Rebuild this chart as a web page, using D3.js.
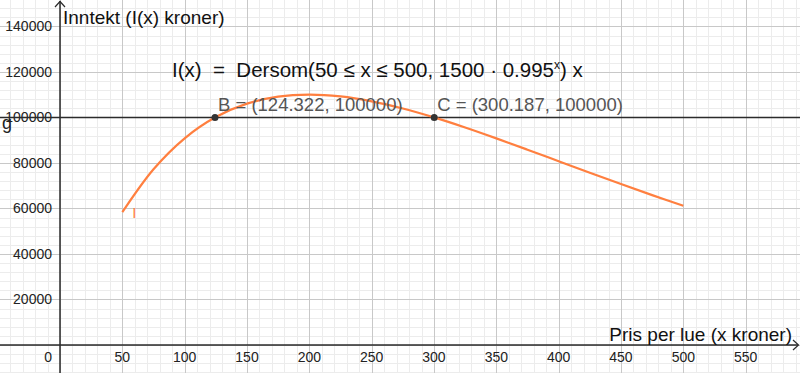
<!DOCTYPE html>
<html>
<head>
<meta charset="utf-8">
<style>
body { margin: 0; background: #fff; }
svg { display: block; font-family: Arial, "Liberation Sans", sans-serif; }
.grid-minor line { stroke: #ececec; stroke-width: 1; }
.grid-major line { stroke: #c8c8c8; stroke-width: 1; }
.tick-label { font-size: 14px; fill: #222; }
</style>
</head>
<body>
<svg width="800" height="373"></svg>
<script src="https://d3js.org/d3.v7.min.js"></script>
<script>
var prices = [50, 75, 100, 125, 150, 175, 200, 225, 250, 275, 300, 325, 350, 375, 400, 425, 450, 475, 500];
var revenue = [58373, 77248, 90866, 100204, 106083, 109190, 110089, 109260, 107101, 103937, 100032,
               95604, 90830, 85855, 80796, 75730, 70745, 65878, 61179];

// horizontal line g and its two intersection points
var lineG = 100000;
var pointNames = ["B", "C"];
var pointX = [124.322, 300.187];

var xTicks = [0, 50, 100, 150, 200, 250, 300, 350, 400, 450, 500, 550];
var yTicks = [20000, 40000, 60000, 80000, 100000, 120000, 140000];

var formula = "I(x)  =  Dersom(50 ≤ x ≤ 500, 1500 · 0.995";

var svg = d3.select("svg"),
    width = +svg.attr("width"),
    height = +svg.attr("height");

// view window like the geogebra graphics view
var x = d3.scaleLinear().domain([-48.13, 593.6]).range([0, width]);
var y = d3.scaleLinear().domain([-12308, 151648]).range([height, 0]);

// minor grid (5 per major)
var minorX = d3.range(-40, 600, 10), minorY = d3.range(-12000, 152000, 4000);
var gm = svg.append("g").attr("class", "grid-minor");
gm.selectAll(".vx").data(minorX).enter().append("line")
  .attr("x1", d => Math.round(x(d)) + 0.5).attr("x2", d => Math.round(x(d)) + 0.5)
  .attr("y1", 0).attr("y2", height);
gm.selectAll(".hy").data(minorY).enter().append("line")
  .attr("y1", d => Math.round(y(d)) + 0.5).attr("y2", d => Math.round(y(d)) + 0.5)
  .attr("x1", 0).attr("x2", width);

// major grid
var majorX = d3.range(-50, 600, 50), majorY = d3.range(-20000, 160000, 20000);
var gM = svg.append("g").attr("class", "grid-major");
gM.selectAll(".vx").data(majorX).enter().append("line")
  .attr("x1", d => Math.round(x(d)) + 0.5).attr("x2", d => Math.round(x(d)) + 0.5)
  .attr("y1", 0).attr("y2", height);
gM.selectAll(".hy").data(majorY).enter().append("line")
  .attr("y1", d => Math.round(y(d)) + 0.5).attr("y2", d => Math.round(y(d)) + 0.5)
  .attr("x1", 0).attr("x2", width);

// axes
var axisCol = "#2b2b2b";
svg.append("line").attr("x1", 0).attr("x2", width - 2)
  .attr("y1", y(0)).attr("y2", y(0)).attr("stroke", axisCol).attr("stroke-width", 1.5);
svg.append("line").attr("x1", x(0)).attr("x2", x(0))
  .attr("y1", height).attr("y2", 1).attr("stroke", axisCol).attr("stroke-width", 1.5);
// arrow heads
svg.append("path").attr("d", d3.line()([[x(0) - 5, 7], [x(0), 1.5], [x(0) + 5, 7]]))
  .attr("fill", "none").attr("stroke", axisCol).attr("stroke-width", 1.2);
svg.append("path").attr("d", d3.line()([[width - 7, y(0) - 5], [width - 1.5, y(0)], [width - 7, y(0) + 5]]))
  .attr("fill", "none").attr("stroke", axisCol).attr("stroke-width", 1.2);

// tick labels
svg.selectAll(".xl").data(xTicks).enter().append("text")
  .attr("class", "tick-label")
  .attr("x", d => d === 0 ? x(0) - 8 : x(d))
  .attr("y", y(0) + 17)
  .attr("text-anchor", d => d === 0 ? "end" : "middle")
  .text(d => d);
svg.selectAll(".yl").data(yTicks).enter().append("text")
  .attr("class", "tick-label")
  .attr("x", x(0) - 8)
  .attr("y", d => y(d) + 5)
  .attr("text-anchor", "end")
  .text(d => d);

// axis titles
svg.append("text").attr("x", x(0) + 3).attr("y", 24)
  .style("font-size", "19px").attr("fill", "#111").text("Inntekt (I(x) kroner)");
svg.append("text").attr("x", 792).attr("y", y(0) - 4).attr("text-anchor", "end")
  .style("font-size", "19px").attr("fill", "#111").text("Pris per lue (x kroner)");

// line g
svg.append("line").attr("x1", 0).attr("x2", width)
  .attr("y1", y(lineG)).attr("y2", y(lineG)).attr("stroke", axisCol).attr("stroke-width", 1.5);
svg.append("text").attr("x", 2).attr("y", 129).style("font-size", "18px").attr("fill", "#222").text("g");

// the revenue curve
var curveCol = "#ff7f3f";
svg.append("path")
  .datum(prices.map((p, i) => [p, revenue[i]]))
  .attr("fill", "none").attr("stroke", curveCol).attr("stroke-width", 2.2)
  .attr("d", d3.line().x(d => x(d[0])).y(d => y(d[1])).curve(d3.curveCatmullRom));
svg.append("text").attr("x", x(58)).attr("y", 218).style("font-size", "15px")
  .attr("fill", curveCol).text("I");

// formula text
var ft = svg.append("text").attr("x", 172).attr("y", 77)
  .style("font-size", "20.5px").attr("fill", "#111")
  .style("white-space", "pre").attr("xml:space", "preserve");
ft.append("tspan").text(formula);
ft.append("tspan").attr("dy", -8).style("font-size", "12px").text("x");
ft.append("tspan").attr("dy", 8).text(") x");

// intersection points
svg.selectAll(".pt").data(pointX).enter().append("circle")
  .attr("cx", d => x(d)).attr("cy", y(lineG)).attr("r", 3.5)
  .attr("fill", "#333");
svg.selectAll(".pl").data(pointX).enter().append("text")
  .attr("x", d => x(d) + 3).attr("y", y(lineG) - 6)
  .style("font-size", "18.5px").attr("fill", "#555")
  .text((d, i) => pointNames[i] + " = (" + d.toFixed(3) + ", " + lineG + ")");
</script>
</body>
</html>
